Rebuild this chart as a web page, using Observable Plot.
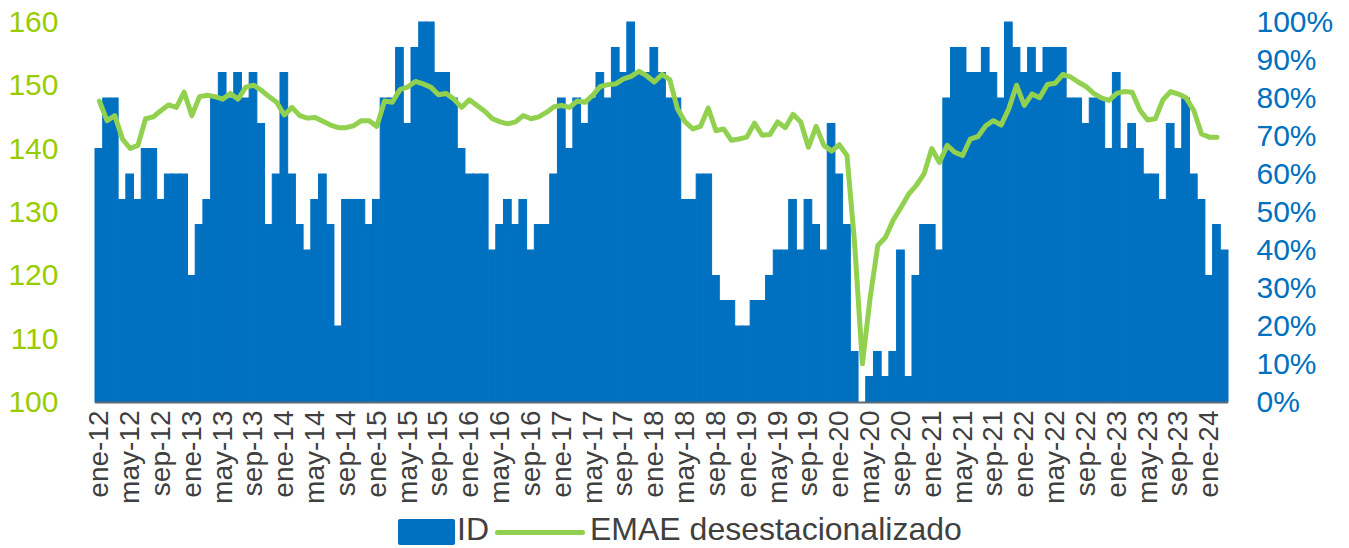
<!DOCTYPE html>
<html>
<head>
<meta charset="utf-8">
<script src="https://cdn.jsdelivr.net/npm/d3@7"></script>
<script src="https://cdn.jsdelivr.net/npm/@observablehq/plot@0.6"></script>
<style>
  html, body { margin: 0; padding: 0; background: #fff; overflow: hidden; }
  #wrap { position: relative; width: 1349px; height: 548px; font-family: "Liberation Sans", Arial, sans-serif; }
  #legend { position: absolute; left: 0; top: 508px; width: 1349px; height: 40px; }
  .sw-bar { position: absolute; left: 398px; top: 11px; width: 57px; height: 26px; background: #0070C0; border-radius: 2px; }
  .sw-line { position: absolute; left: 495px; top: 22px; width: 90px; height: 5px; background: #92D050; border-radius: 3px; }
  .lt { position: absolute; top: 4px; font-size: 32px; color: #404040; line-height: 34px; white-space: nowrap; }
</style>
</head>
<body>
<div id="wrap">
  <div id="chart"></div>
  <div id="legend">
    <div class="sw-bar"></div><div class="lt" style="left:457px">ID</div>
    <div class="sw-line"></div><div class="lt" style="left:590px">EMAE desestacionalizado</div>
  </div>
</div>
<script>
// Categories
const monthNames = ["ene","feb","mar","abr","may","jun","jul","ago","sep","oct","nov","dic"];
const years = ["12","13","14","15","16","17","18","19","20","21","22","23","24"];
const nMonths = 147; // ene-12 .. mar-24

// ID (índice de difusión, %)
const id2012 = [66.7, 80, 80, 53.3, 60, 53.3, 66.7, 66.7, 53.3, 60, 60, 60];
const id2013 = [33.3, 46.7, 53.3, 80, 86.7, 80, 86.7, 80, 86.7, 73.3, 46.7, 60];
const id2014 = [86.7, 60, 46.7, 40, 53.3, 60, 46.7, 20, 53.3, 53.3, 53.3, 46.7];
const id2015 = [53.3, 80, 80, 93.3, 73.3, 93.3, 100, 100, 86.7, 86.7, 80, 66.7];
const id2016 = [60, 60, 60, 40, 46.7, 53.3, 46.7, 53.3, 40, 46.7, 46.7, 60];
const id2017 = [80, 66.7, 80, 73.3, 80, 86.7, 80, 93.3, 86.7, 100, 86.7, 86.7];
const id2018 = [93.3, 86.7, 80, 80, 53.3, 53.3, 60, 60, 33.3, 26.7, 26.7, 20];
const id2019 = [20, 26.7, 26.7, 33.3, 40, 40, 53.3, 40, 53.3, 46.7, 40, 73.3];
const id2020 = [60, 46.7, 13.3, 0, 6.7, 13.3, 6.7, 13.3, 40, 6.7, 33.3, 46.7];
const id2021 = [46.7, 40, 80, 93.3, 93.3, 86.7, 86.7, 93.3, 86.7, 80, 100, 93.3];
const id2022 = [86.7, 93.3, 86.7, 93.3, 93.3, 93.3, 80, 80, 73.3, 80, 80, 66.7];
const id2023 = [86.7, 66.7, 73.3, 66.7, 60, 60, 53.3, 73.3, 66.7, 80, 60, 53.3];
const id2024 = [33.3, 46.7, 40];

// EMAE desestacionalizado
const emae2012 = [147.6, 144.5, 145.3, 141.6, 140.1, 140.6, 144.8, 145.1, 146.1, 147.0, 146.6, 149.0];
const emae2013 = [145.3, 148.3, 148.5, 148.3, 147.9, 148.8, 147.9, 149.8, 150.1, 149.3, 148.3, 147.4];
const emae2014 = [145.4, 146.6, 145.3, 144.9, 145.0, 144.4, 143.8, 143.4, 143.4, 143.7, 144.5, 144.5];
const emae2015 = [143.6, 147.6, 147.4, 149.4, 149.8, 150.7, 150.3, 149.8, 148.6, 148.8, 147.9, 146.6];
const emae2016 = [147.8, 146.9, 146.0, 144.8, 144.3, 144.0, 144.3, 145.3, 144.8, 145.1, 145.8, 146.7];
const emae2017 = [146.9, 146.6, 147.6, 147.4, 148.5, 149.9, 150.2, 150.3, 151.1, 151.5, 152.3, 151.6];
const emae2018 = [150.6, 151.8, 151.0, 146.4, 144.3, 143.2, 143.6, 146.5, 142.9, 143.2, 141.4, 141.6];
const emae2019 = [141.9, 144.1, 142.2, 142.3, 144.3, 143.4, 145.5, 144.3, 140.3, 143.6, 140.6, 139.7];
const emae2020 = [140.7, 139.0, 125.0, 106.1, 116.5, 124.8, 126.1, 128.8, 130.8, 132.9, 134.3, 136.1];
const emae2021 = [140.1, 137.9, 140.6, 139.5, 139.0, 141.6, 142.0, 143.7, 144.5, 143.8, 146.4, 150.1];
const emae2022 = [146.9, 148.7, 148.1, 150.2, 150.4, 151.8, 151.4, 150.6, 149.9, 148.8, 148.1, 147.7];
const emae2023 = [148.8, 149.1, 149.0, 146.2, 144.6, 144.8, 147.8, 149.1, 148.7, 148.1, 146.1, 142.4];
const emae2024 = [141.9, 141.9];

// Tick labels
const leftTicks = [100, 110, 120, 130, 140, 150, 160];
const rightTicks = [0, 10, 20, 30, 40, 50, 60, 70, 80, 90, 100];

// Build tables
const months = [];
years.forEach(y => monthNames.forEach(m => months.push(m + "-" + y)));
const domain = months.slice(0, nMonths);
const xTicks = domain.filter((d, i) => i % 4 === 0);

const idVals = [].concat(id2012, id2013, id2014, id2015, id2016, id2017, id2018, id2019, id2020, id2021, id2022, id2023, id2024);
const emaeVals = [].concat(emae2012, emae2013, emae2014, emae2015, emae2016, emae2017, emae2018, emae2019, emae2020, emae2021, emae2022, emae2023, emae2024);

const idData = idVals.map((v, i) => ({month: domain[i], id: v}));
const emaeData = emaeVals.map((v, i) => ({month: domain[i], emae: v}));

// left axis (100..160) mapped onto the shared 0..100 y scale
const toPct = v => (v - 100) / 60 * 100;
const font = "Liberation Sans, Arial, sans-serif";

const chart = Plot.plot({
  width: 1349,
  height: 510,
  marginLeft: 95,
  marginRight: 121,
  marginTop: 22,
  marginBottom: 108,
  style: {fontFamily: font, background: "#fff", overflow: "visible"},
  x: {type: "band", domain: domain, padding: 0, label: null},
  y: {domain: [0, 100], label: null},
  marks: [
    Plot.barY(idData, {x: "month", y: "id", fill: "#0070C0", stroke: "#0070C0", strokeWidth: 1, inset: 0}),
    Plot.ruleY([0], {stroke: "#5f6b78", strokeWidth: 2}),
    Plot.lineY(emaeData, {x: "month", y: d => toPct(d.emae), stroke: "#92D050", strokeWidth: 5, strokeLinejoin: "round", strokeLinecap: "round"}),
    Plot.axisY(leftTicks.map(toPct), {anchor: "left", tickSize: 0, tickPadding: 37, fontSize: 30, color: "#99CC00", fill: "#99CC00", tickFormat: d => String(Math.round(100 + d * 0.6)), label: null}),
    Plot.axisY(rightTicks, {anchor: "right", tickSize: 0, tickPadding: 28, fontSize: 30, color: "#0070C0", fill: "#0070C0", tickFormat: d => d + "%", label: null}),
    Plot.axisX(xTicks, {anchor: "bottom", tickSize: 0, tickPadding: 8, tickRotate: -90, fontSize: 28, color: "#404040", fill: "#404040", label: null})
  ]
});
document.getElementById("chart").appendChild(chart);
</script>
</body>
</html>
